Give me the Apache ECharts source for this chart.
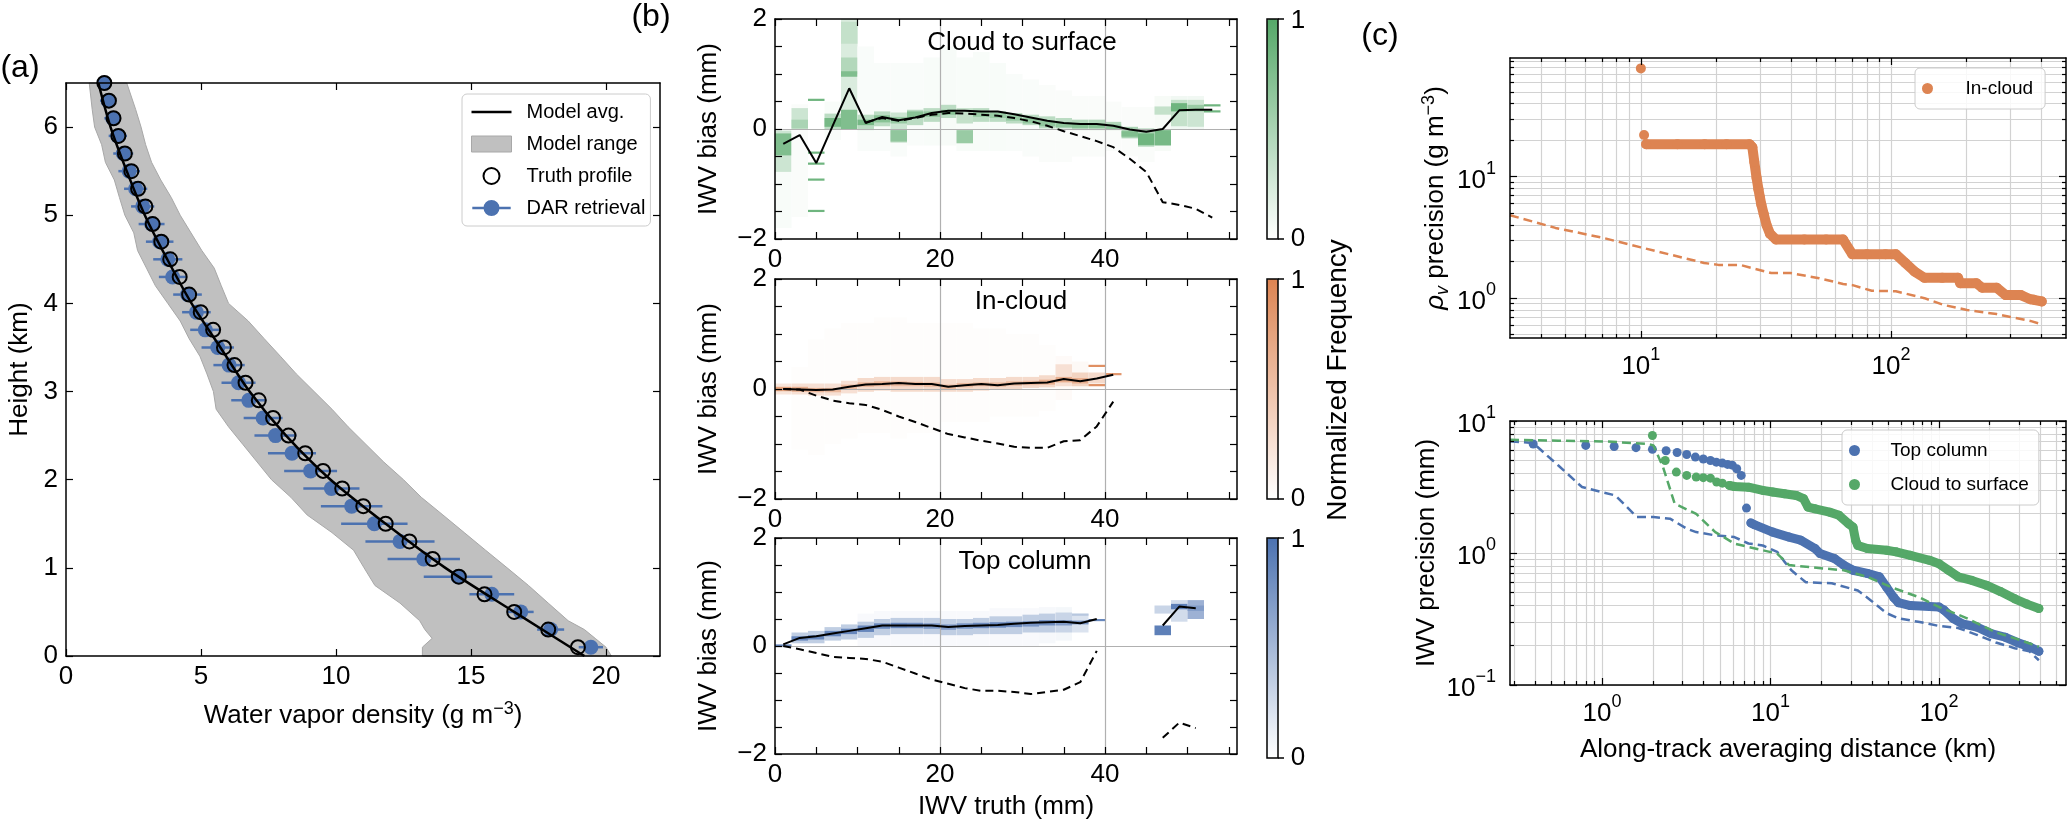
<!DOCTYPE html>
<html>
<head>
<meta charset="utf-8">
<script src="https://cdn.jsdelivr.net/npm/echarts@6/dist/echarts.min.js"></script>
<style>
html, body { margin: 0; padding: 0; background: #fff; }
#chart { width: 2067px; height: 824px; }
</style>
</head>
<body>
<div id="chart"></div>
<script>
const FONT = '"Liberation Sans", Arial, sans-serif'
const BLUE = '#4C72B0', ORANGE = '#DD8452', GREEN = '#55A868'

// ---- (a) water vapour profile ----
const truthH = [0.1, 0.3, 0.5, 0.7, 0.9, 1.1, 1.3, 1.5, 1.7, 1.9, 2.1, 2.3, 2.5, 2.7, 2.9, 3.1, 3.3,
  3.5, 3.7, 3.9, 4.1, 4.3, 4.5, 4.7, 4.9, 5.1, 5.3, 5.5, 5.7, 5.9, 6.1, 6.3, 6.5]
const truthRho = [18.96, 17.86, 16.6, 15.5, 14.55, 13.58, 12.72, 11.84, 11.01, 10.23, 9.52, 8.86, 8.24,
  7.67, 7.14, 6.65, 6.24, 5.85, 5.45, 4.99, 4.56, 4.21, 3.86, 3.53, 3.21, 2.94, 2.67, 2.42, 2.18, 1.94, 1.76, 1.59, 1.42]
const darRho = [19.44, 17.95, 16.84, 15.77, 14.52, 13.25, 12.37, 11.42, 10.58, 9.83, 9.06, 8.37, 7.76,
  7.3, 6.77, 6.39, 6.04, 5.62, 5.16, 4.83, 4.5, 3.95, 3.77, 3.47, 3.17, 2.84, 2.58, 2.34, 2.12, 1.92, 1.73, 1.56, 1.42]
const darErr = [0.45, 0.5, 0.48, 0.83, 1.27, 1.34, 1.28, 1.23, 1.14, 1.04, 0.98, 0.89, 0.78, 0.72, 0.65,
  0.63, 0.58, 0.6, 0.56, 0.53, 0.53, 0.51, 0.54, 0.51, 0.48, 0.43, 0.43, 0.4, 0.37, 0.34, 0.31, 0.3, 0.28]
const avgH = [0, 0.5, 1, 1.5, 2, 2.5, 3, 3.5, 4, 4.5, 5, 5.5, 6, 6.5]
const avgRho = [19.2, 16.6, 14.05, 11.84, 9.8, 8.15, 6.8, 5.72, 4.65, 3.75, 2.92, 2.25, 1.65, 1.2]
const rangeH = [0, 0.1, 0.2, 0.3, 0.4, 0.6, 0.8, 1.0, 1.2, 1.4, 1.6, 1.8, 2.0, 2.2, 2.4, 2.6, 2.8, 3.0,
  3.2, 3.4, 3.6, 3.8, 4.0, 4.2, 4.4, 4.6, 4.8, 5.0, 5.2, 5.4, 5.6, 5.8, 6.0, 6.2, 6.5]
const rangeMin = [13.2, 13.2, 13.56, 13.29, 13.1, 12.37, 11.44, 11.04, 10.65, 9.85, 8.93, 8.33, 7.61, 7.08,
  6.55, 6.02, 5.56, 5.46, 5.22, 4.96, 4.56, 4.23, 3.77, 3.31, 2.98, 2.65, 2.51, 2.18, 1.98, 1.79, 1.46, 1.32, 1.06, 0.97, 0.86]
const rangeMax = [20.2, 20.0, 19.6, 19.2, 18.6, 17.86, 17.13, 16.34, 15.54, 14.75, 13.96, 13.16, 12.5, 11.77,
  11.11, 10.45, 9.85, 9.19, 8.53, 7.94, 7.34, 6.75, 6.02, 5.75, 5.49, 5.03, 4.63, 4.23, 3.9, 3.51, 3.17, 2.95, 2.78, 2.58, 2.25]

// ---- (b) IWV bias vs truth ----
const surfX = [1, 3, 5, 7, 9, 11, 13, 15, 17, 19, 21, 23, 25, 27, 29, 31, 33, 35, 37, 39, 41, 43, 45, 47, 49, 51, 53]
const surfBias = [-0.27, -0.11, -0.62, 0.06, 0.74, 0.11, 0.22, 0.16, 0.21, 0.29, 0.33, 0.33, 0.32, 0.32,
  0.27, 0.21, 0.15, 0.11, 0.09, 0.09, 0.06, -0.01, -0.05, 0.0, 0.34, 0.35, 0.35]
const surfDashX = [11, 13, 15, 17, 19, 21, 23, 25, 27, 29, 31, 33, 35, 37, 39, 41, 43, 45, 47, 49, 51, 53]
const surfDash = [0.12, 0.2, 0.15, 0.2, 0.26, 0.29, 0.28, 0.26, 0.24, 0.2, 0.14, 0.06, -0.04, -0.13, -0.22,
  -0.33, -0.54, -0.78, -1.33, -1.38, -1.45, -1.61]
const inX = [1, 3, 5, 7, 9, 11, 13, 15, 17, 19, 21, 23, 25, 27, 29, 31, 33, 35, 37, 39, 41]
const inBias = [0.0, -0.01, -0.02, -0.01, 0.04, 0.08, 0.09, 0.11, 0.09, 0.09, 0.04, 0.07, 0.09, 0.07, 0.1,
  0.11, 0.12, 0.18, 0.14, 0.19, 0.26]
const inDash = [0.0, -0.01, -0.12, -0.21, -0.26, -0.29, -0.38, -0.5, -0.6, -0.71, -0.82, -0.88, -0.94,
  -0.99, -1.05, -1.07, -1.07, -0.95, -0.93, -0.68, -0.23]
const topX = [1, 3, 5, 7, 9, 11, 13, 15, 17, 19, 21, 23, 25, 27, 29, 31, 33, 35, 37, 39, 41, 43, 45, 47, 49, 51]
const topBias = [0.03, 0.15, 0.18, 0.23, 0.28, 0.33, 0.38, 0.38, 0.38, 0.38, 0.35, 0.37, 0.38, 0.39, 0.41,
  0.43, 0.44, 0.45, 0.42, 0.5, null, null, null, 0.38, 0.73, 0.7]
const topDash = [0.0, -0.06, -0.13, -0.2, -0.22, -0.24, -0.29, -0.4, -0.51, -0.62, -0.7, -0.78, -0.83,
  -0.83, -0.85, -0.89, -0.85, -0.81, -0.67, -0.09, null, null, null, -1.7, -1.42, -1.52]

// 2-D histogram bands per 2 mm column: [column start, bias low, bias high, normalized frequency]
const surfCells = [
  [0, -1.8, 0.0, 0.04], [0, -0.78, -0.03, 0.3], [0, -0.48, -0.08, 0.75],
  [2, -1.6, 0.45, 0.03], [2, 0.0, 0.38, 0.3], [2, 0.01, 0.17, 0.5],
  [4, 0.51, 0.55, 0.85], [4, -0.45, -0.41, 0.85], [4, -0.65, -0.61, 0.85], [4, -0.94, -0.9, 0.85], [4, -1.51, -1.47, 0.85],
  [6, -0.2, 0.5, 0.04], [6, 0.0, 0.28, 0.4], [6, 0.04, 0.2, 0.8],
  [8, 0.0, 2.0, 0.22], [8, 1.55, 1.95, 0.35], [8, 1.0, 1.3, 0.45], [8, 0.95, 1.05, 0.75], [8, 0.0, 0.35, 0.75],
  [10, -0.4, 1.5, 0.035], [10, -0.02, 0.26, 0.4], [10, 0.07, 0.17, 0.8],
  [12, -0.4, 1.2, 0.035], [12, 0.05, 0.32, 0.4], [12, 0.12, 0.25, 0.7],
  [14, -0.5, 1.2, 0.035], [14, -0.25, 0.3, 0.3], [14, -0.23, -0.02, 0.65], [14, 0.1, 0.22, 0.6],
  [16, -0.3, 1.2, 0.035], [16, 0.07, 0.35, 0.4], [16, 0.2, 0.32, 0.7],
  [18, -0.3, 1.3, 0.04], [18, 0.13, 0.38, 0.4], [18, 0.22, 0.32, 0.65],
  [20, -0.3, 1.5, 0.045], [20, 0.2, 0.44, 0.4], [20, 0.26, 0.35, 0.7],
  [22, -0.4, 1.3, 0.04], [22, 0.1, 0.38, 0.35], [22, -0.26, -0.02, 0.6],
  [24, -0.4, 1.4, 0.04], [24, 0.13, 0.38, 0.4], [24, 0.22, 0.32, 0.6],
  [26, -0.4, 1.2, 0.04], [26, 0.13, 0.32, 0.4], [26, 0.2, 0.3, 0.6],
  [28, -0.4, 1.0, 0.035], [28, 0.1, 0.29, 0.4], [28, 0.15, 0.25, 0.6],
  [30, -0.5, 0.9, 0.035], [30, 0.07, 0.26, 0.4], [30, 0.1, 0.2, 0.65],
  [32, -0.6, 0.8, 0.03], [32, 0.01, 0.23, 0.4], [32, 0.05, 0.15, 0.65],
  [34, -0.6, 0.7, 0.03], [34, 0.01, 0.2, 0.4], [34, 0.03, 0.12, 0.65],
  [36, -0.5, 0.6, 0.03], [36, -0.02, 0.17, 0.45], [36, 0.02, 0.1, 0.7],
  [38, -0.5, 0.6, 0.03], [38, -0.02, 0.17, 0.45], [38, 0.02, 0.1, 0.7],
  [40, -0.4, 0.5, 0.03], [40, -0.02, 0.13, 0.45], [40, 0.0, 0.08, 0.65],
  [42, -0.5, 0.4, 0.03], [42, -0.17, 0.04, 0.5], [42, -0.14, -0.04, 0.75],
  [44, -0.6, 0.4, 0.03], [44, -0.32, 0.01, 0.5], [44, -0.29, -0.08, 0.85],
  [46, -0.4, 0.6, 0.05], [46, 0.26, 0.41, 0.35], [46, -0.3, -0.02, 0.8],
  [48, 0.0, 0.6, 0.08], [48, 0.05, 0.53, 0.35], [48, 0.32, 0.47, 0.85],
  [50, 0.0, 0.6, 0.08], [50, 0.04, 0.53, 0.3], [50, 0.32, 0.44, 0.6],
  [52, 0.41, 0.45, 0.85], [52, 0.3, 0.34, 0.85]
]
const inCells = [
  [0, -0.1, 0.1, 0.2], [0, -0.04, 0.04, 0.75],
  [2, -1.1, 0.4, 0.02], [2, -0.1, 0.1, 0.25], [2, -0.05, 0.04, 0.65],
  [4, -1.2, 0.9, 0.02], [4, -0.12, 0.1, 0.25], [4, -0.06, 0.02, 0.6],
  [6, -1.0, 1.1, 0.02], [6, -0.12, 0.1, 0.25], [6, -0.06, 0.02, 0.55],
  [8, -0.9, 1.2, 0.02], [8, -0.08, 0.15, 0.25], [8, -0.01, 0.08, 0.55],
  [10, -0.8, 1.2, 0.02], [10, -0.05, 0.2, 0.3], [10, 0.04, 0.12, 0.6],
  [12, -0.8, 1.3, 0.02], [12, -0.03, 0.22, 0.3], [12, 0.05, 0.14, 0.6],
  [14, -0.9, 1.3, 0.02], [14, -0.05, 0.22, 0.3], [14, 0.05, 0.14, 0.55],
  [16, -0.8, 1.2, 0.02], [16, -0.05, 0.22, 0.3], [16, 0.05, 0.13, 0.55],
  [18, -0.8, 1.2, 0.02], [18, -0.05, 0.22, 0.3], [18, 0.04, 0.12, 0.55],
  [20, -0.6, 1.2, 0.02], [20, -0.05, 0.18, 0.3], [20, 0.0, 0.08, 0.55],
  [22, -0.6, 1.2, 0.02], [22, -0.05, 0.18, 0.3], [22, 0.03, 0.11, 0.55],
  [24, -0.6, 1.1, 0.02], [24, -0.03, 0.2, 0.3], [24, 0.05, 0.12, 0.55],
  [26, -0.5, 1.1, 0.02], [26, 0.0, 0.2, 0.3], [26, 0.04, 0.12, 0.55],
  [28, -0.5, 1.0, 0.02], [28, 0.0, 0.22, 0.3], [28, 0.06, 0.14, 0.55],
  [30, -0.5, 1.0, 0.02], [30, 0.02, 0.22, 0.3], [30, 0.07, 0.15, 0.55],
  [32, -0.4, 0.8, 0.02], [32, 0.03, 0.25, 0.3], [32, 0.08, 0.17, 0.65],
  [34, -0.2, 0.6, 0.04], [34, 0.05, 0.45, 0.25], [34, 0.12, 0.22, 0.65],
  [36, 0.0, 0.5, 0.05], [36, 0.05, 0.3, 0.35], [36, 0.1, 0.2, 0.65],
  [38, 0.1, 0.3, 0.3], [38, 0.4, 0.44, 0.9], [38, 0.05, 0.09, 0.9],
  [40, 0.25, 0.29, 0.85]
]
const topCells = [
  [0, -0.02, 0.03, 0.85],
  [2, 0.05, 0.25, 0.35], [2, 0.1, 0.18, 0.85],
  [4, 0.05, 0.28, 0.35], [4, 0.12, 0.2, 0.85],
  [6, 0.1, 0.35, 0.35], [6, 0.18, 0.28, 0.85],
  [8, 0.12, 0.4, 0.35], [8, 0.22, 0.32, 0.85],
  [10, 0.0, 0.6, 0.04], [10, 0.15, 0.45, 0.35], [10, 0.26, 0.38, 0.85],
  [12, 0.0, 0.65, 0.04], [12, 0.2, 0.5, 0.35], [12, 0.32, 0.42, 0.85],
  [14, 0.0, 0.65, 0.04], [14, 0.22, 0.52, 0.35], [14, 0.33, 0.43, 0.85],
  [16, 0.0, 0.65, 0.04], [16, 0.22, 0.52, 0.35], [16, 0.33, 0.43, 0.8],
  [18, 0.0, 0.65, 0.04], [18, 0.22, 0.52, 0.35], [18, 0.32, 0.42, 0.75],
  [20, 0.0, 0.65, 0.04], [20, 0.2, 0.5, 0.35], [20, 0.3, 0.4, 0.7],
  [22, 0.0, 0.65, 0.04], [22, 0.2, 0.5, 0.35], [22, 0.32, 0.42, 0.75],
  [24, 0.0, 0.65, 0.04], [24, 0.22, 0.52, 0.35], [24, 0.33, 0.43, 0.8],
  [26, 0.0, 0.7, 0.04], [26, 0.22, 0.55, 0.35], [26, 0.34, 0.44, 0.85],
  [28, 0.0, 0.7, 0.04], [28, 0.22, 0.55, 0.35], [28, 0.35, 0.45, 0.8],
  [30, 0.0, 0.7, 0.04], [30, 0.25, 0.58, 0.35], [30, 0.36, 0.46, 0.75],
  [32, 0.05, 0.72, 0.05], [32, 0.25, 0.6, 0.35], [32, 0.38, 0.48, 0.8],
  [34, 0.1, 0.72, 0.06], [34, 0.25, 0.62, 0.3], [34, 0.38, 0.48, 0.7],
  [36, 0.25, 0.6, 0.2], [36, 0.56, 0.6, 0.4], [36, 0.4, 0.47, 0.75],
  [38, 0.46, 0.5, 0.85],
  [46, 0.6, 0.75, 0.3], [46, 0.2, 0.38, 0.9],
  [48, 0.45, 0.85, 0.25], [48, 0.68, 0.78, 0.9],
  [50, 0.5, 0.85, 0.55], [50, 0.65, 0.75, 0.7]
]

// ---- (c) precision vs averaging distance ----
const icX = [10, 10.3, 10.5, 14, 18, 22, 27.2, 27.9, 28.4, 29, 29.5, 29.9, 30.3, 31, 31.8, 32.8, 34.7, 45, 55,
  64.3, 70, 80, 95, 104.5, 114, 124, 136, 160, 185, 189, 219, 231, 264, 287, 330, 360, 372, 400]
const icY = [78, 22.1, 18.5, 18.5, 18.5, 18.5, 18.5, 17.5, 13.3, 9.8, 7.9, 6.8, 5.9, 4.9, 4.0, 3.4, 3.04, 3.04,
  3.04, 3.04, 2.3, 2.3, 2.3, 2.3, 1.95, 1.66, 1.47, 1.47, 1.47, 1.33, 1.33, 1.22, 1.22, 1.06, 1.06, 0.98, 0.97, 0.94]
const icDashX = [3, 4.56, 7.1, 10, 17.9, 20.4, 24.9, 33.2, 39.6, 51.6, 64.3, 70.2, 83.7, 104.5, 136, 162, 201, 264, 300, 360, 400]
const icDashY = [4.82, 3.79, 3.13, 2.62, 1.95, 1.88, 1.88, 1.61, 1.61, 1.46, 1.31, 1.28, 1.15, 1.14, 1.0, 0.88,
  0.8, 0.74, 0.7, 0.65, 0.61]
const tcX = [0.39, 0.8, 1.18, 1.59, 1.99, 2.4, 2.79, 3.18, 3.58, 3.99, 4.4, 4.77, 5.18, 5.56, 5.93, 6.3, 6.7,
  7.2, 7.65, 8.0, 10.3, 12.9, 15.1, 18.4, 19.7, 23.9, 27.2, 30.9, 37.6, 44.3, 48.9, 53.9, 57.5, 67.6, 100,
  107, 121, 138, 168, 204, 248, 292, 344, 392]
const tcY = [6.7, 6.53, 6.41, 6.28, 6.1, 5.95, 5.77, 5.58, 5.33, 5.15, 5.02, 4.88, 4.8, 4.69, 4.63, 4.35, 3.87,
  2.19, 1.69, 1.64, 1.44, 1.32, 1.25, 1.08, 0.99, 0.91, 0.81, 0.74, 0.7, 0.66, 0.55, 0.46, 0.42, 0.4, 0.39,
  0.37, 0.32, 0.29, 0.275, 0.245, 0.23, 0.21, 0.195, 0.18]
const csX = [1.99, 2.37, 2.76, 3.18, 3.62, 3.99, 4.4, 4.79, 5.18, 5.7, 6.1, 7.4, 9.0, 10.3, 12.1, 14.2, 15.7,
  16.7, 18.4, 22.4, 25.5, 29.0, 30.9, 32.0, 33, 37.6, 48.9, 55.6, 67.6, 88, 100, 114, 130, 157, 191, 232, 282, 333, 392]
const csY = [7.77, 5.02, 4.1, 3.87, 3.76, 3.72, 3.69, 3.45, 3.38, 3.25, 3.19, 3.15, 2.98, 2.9, 2.81, 2.73, 2.58,
  2.23, 2.16, 2.04, 1.93, 1.67, 1.57, 1.25, 1.14, 1.08, 1.05, 1.02, 0.96, 0.88, 0.83, 0.74, 0.66, 0.62, 0.57,
  0.51, 0.45, 0.41, 0.38]
const tcDashX = [0.284, 0.39, 0.55, 0.76, 0.99, 1.2, 1.61, 2.02, 2.53, 3.18, 3.62, 4.7, 6.1, 7.4, 9.0, 10.95,
  12.1, 13.3, 16.2, 23.1, 33, 40.1, 48.9, 57.5, 76.9, 100, 130, 168, 218, 282, 344, 392]
const tcDashY = [7.03, 6.8, 4.6, 3.16, 2.9, 2.73, 1.87, 1.87, 1.82, 1.53, 1.44, 1.36, 1.32, 1.18, 1.14, 1.02,
  0.86, 0.74, 0.6, 0.59, 0.52, 0.43, 0.35, 0.32, 0.3, 0.28, 0.27, 0.24, 0.21, 0.19, 0.18, 0.154]
const csDashX = [0.284, 0.55, 1.05, 1.89, 2.02, 2.3, 2.7, 3.62, 4.7, 6.1, 7.4, 10.95, 12.9, 17.3, 27.2, 37.6,
  52.2, 76.9, 100, 147, 218, 300, 392]
const csDashY = [7.2, 7.1, 7.0, 6.7, 6.53, 4.48, 2.36, 1.98, 1.44, 1.18, 1.11, 0.99, 0.81, 0.78, 0.74, 0.66,
  0.55, 0.46, 0.39, 0.32, 0.25, 0.22, 0.195]

// tick positions
const aXTicks = [0, 5, 10, 15, 20]
const aYTicks = [0, 1, 2, 3, 4, 5, 6]
const bXTicks = [0, 5, 10, 15, 20, 25, 30, 35, 40, 45, 50, 55]
const bXLabels = [0, 20, 40]
const bYTicks = [-2, -1.5, -1, -0.5, 0, 0.5, 1, 1.5, 2]
const bYLabels = [-2, 0, 2]
const c1XMajor = [10, 100]
const c1XMinor = [4, 5, 6, 7, 8, 9, 20, 30, 40, 50, 60, 70, 80, 90, 200, 300, 400]
const c1YMajor = [1, 10]
const c1YMinor = [0.5, 0.6, 0.7, 0.8, 0.9, 2, 3, 4, 5, 6, 7, 8, 9, 20, 30, 40, 50, 60, 70, 80, 90]
const c2XMajor = [1, 10, 100]
const c2XMinor = [0.3, 0.4, 0.5, 0.6, 0.7, 0.8, 0.9, 2, 3, 4, 5, 6, 7, 8, 9, 20, 30, 40, 50, 60, 70, 80, 90, 200, 300, 400, 500]
const c2YMajor = [0.1, 1, 10]
const c2YMinor = [0.2, 0.3, 0.4, 0.5, 0.6, 0.7, 0.8, 0.9, 2, 3, 4, 5, 6, 7, 8, 9]

const BIN = 2
const SUP = {
  b: { fontFamily: FONT, fontSize: 26, color: '#000', lineHeight: 34, verticalAlign: 'bottom' },
  e: { fontFamily: FONT, fontSize: 18, color: '#000', lineHeight: 18, verticalAlign: 'top' }
}
const NAME_RICH = {
  sup: { fontFamily: FONT, fontSize: 18, color: '#000', lineHeight: 14, verticalAlign: 'top' },
  it: { fontFamily: FONT, fontSize: 26, color: '#000', fontStyle: 'italic' },
  sub: { fontFamily: FONT, fontSize: 18, color: '#000', fontStyle: 'italic', lineHeight: 14, verticalAlign: 'bottom' }
}
const minus = v => (v < 0 ? '\u2212' + (-v) : String(v))
const pow10 = v => {
  const e = Math.round(Math.log10(v))
  return '{b|10}{e|' + minus(e) + '}'
}

const xAxes = []
const yAxes = []
function frame(list, dim, grid, o) {
  const main = dim === 'x' ? 'bottom' : 'left'
  const opp = dim === 'x' ? 'top' : 'right'
  const type = o.type || 'value'
  const base = (pos, ticks, len, line) => ({
    gridIndex: grid, type, min: o.min, max: o.max, position: pos, z: 5,
    axisLine: { show: line, onZero: false, lineStyle: { color: '#000', width: 1.5 } },
    axisTick: { show: true, inside: true, length: len, customValues: ticks, lineStyle: { color: '#000', width: 1.2 } },
    axisLabel: { show: false },
    splitLine: { show: false }
  })
  const m = base(main, o.major, 7, true)
  m.axisLabel = {
    show: true, customValues: o.labels, fontFamily: FONT, fontSize: 26, color: '#000',
    margin: o.margin || 8, formatter: o.fmt, rich: SUP
  }
  if (o.name) {
    m.name = o.name
    m.nameLocation = 'middle'
    m.nameGap = o.nameGap
    m.nameRotate = dim === 'y' ? 90 : 0
    m.nameTextStyle = { fontFamily: FONT, fontSize: 26, color: '#000', lineHeight: 32, rich: NAME_RICH }
  }
  list.push(m)
  const idx = list.length - 1
  list.push(base(opp, o.major, 7, true))
  if (o.minor) {
    list.push(base(main, o.minor, 4, false))
    list.push(base(opp, o.minor, 4, false))
  }
  if (o.grid) {
    list.push({
      gridIndex: grid, type, min: o.min, max: o.max, position: main, z: o.gridZ || 0,
      axisLine: { show: false, onZero: false },
      axisTick: { show: false, customValues: o.grid },
      axisLabel: { show: false },
      splitLine: { show: true, lineStyle: { color: o.gridColor || '#d2d2d2', width: 1.2 } }
    })
  }
  return idx
}

const grids = [
  { left: 66, top: 83, width: 594, height: 573 },
  { left: 775, top: 19, width: 462, height: 220 },
  { left: 775, top: 279, width: 462, height: 220 },
  { left: 775, top: 538, width: 462, height: 220 },
  { left: 1510, top: 58, width: 556, height: 280 },
  { left: 1510, top: 421, width: 556, height: 264 }
]

// axes
const ax = frame(xAxes, 'x', 0, {
  min: 0, max: 22, major: aXTicks, labels: aXTicks,
  name: 'Water vapor density (g m{sup|\u22123})', nameGap: 44
})
const ay = frame(yAxes, 'y', 0, { min: 0, max: 6.5, major: aYTicks, labels: aYTicks, name: 'Height (km)', nameGap: 30 })
const bx = [], by = []
for (let k = 0; k < 3; k++) {
  bx.push(frame(xAxes, 'x', k + 1, {
    min: 0, max: 56, major: bXTicks, labels: bXLabels, grid: [20, 40], gridZ: 3, gridColor: '#b0b0b0',
    name: k === 2 ? 'IWV truth (mm)' : '', nameGap: 37
  }))
  by.push(frame(yAxes, 'y', k + 1, {
    min: -2, max: 2, major: bYTicks, labels: bYLabels, fmt: minus, grid: [0], gridZ: 3, gridColor: '#b0b0b0',
    name: 'IWV bias (mm)', nameGap: 50
  }))
}
const c1x = frame(xAxes, 'x', 4, {
  type: 'log', min: 3, max: 500, major: c1XMajor, minor: c1XMinor, labels: c1XMajor, fmt: pow10,
  grid: c1XMajor.concat(c1XMinor)
})
const c1y = frame(yAxes, 'y', 4, {
  type: 'log', min: 0.47, max: 95, major: c1YMajor, minor: c1YMinor, labels: c1YMajor, fmt: pow10, margin: 14,
  grid: c1YMajor.concat(c1YMinor),
  name: '{it|\u03c1}{sub|v} precision (g m{sup|\u22123})', nameGap: 58
})
const c2x = frame(xAxes, 'x', 5, {
  type: 'log', min: 0.284, max: 568, major: c2XMajor, minor: c2XMinor, labels: c2XMajor, fmt: pow10,
  grid: c2XMajor.concat(c2XMinor),
  name: 'Along-track averaging distance (km)', nameGap: 49
})
const c2y = frame(yAxes, 'y', 5, {
  type: 'log', min: 0.1, max: 10, major: c2YMajor, minor: c2YMinor, labels: c2YMajor, fmt: pow10, margin: 14,
  grid: c2YMajor.concat(c2YMinor),
  name: 'IWV precision (mm)', nameGap: 65
})

const pairs = (xs, ys) => xs.map((x, i) => [x, ys[i]])
const series = []

// (a)
series.push({
  name: 'Model range', type: 'custom', xAxisIndex: ax, yAxisIndex: ay, z: 1,
  itemStyle: { color: '#c0c0c0', borderColor: '#a8a8a8', borderWidth: 1 },
  data: [[rangeMin[0], rangeH[0]]],
  renderItem: (params, api) => {
    const pts = rangeH.map((h, i) => api.coord([rangeMin[i], h]))
    for (let i = rangeH.length - 1; i >= 0; i--) pts.push(api.coord([rangeMax[i], rangeH[i]]))
    return { type: 'polygon', shape: { points: pts }, style: { fill: '#c0c0c0', stroke: '#a8a8a8', lineWidth: 1 } }
  }
})
series.push({
  type: 'custom', xAxisIndex: ax, yAxisIndex: ay, z: 2,
  encode: { x: [0, 1], y: 2 },
  data: darRho.map((r, i) => [r - darErr[i], r + darErr[i], truthH[i]]),
  renderItem: (params, api) => {
    const p0 = api.coord([api.value(0), api.value(2)])
    const p1 = api.coord([api.value(1), api.value(2)])
    return { type: 'line', shape: { x1: p0[0], y1: p0[1], x2: p1[0], y2: p1[1] }, style: { stroke: BLUE, lineWidth: 2.5 } }
  }
})
series.push({
  name: 'DAR retrieval', type: 'scatter', xAxisIndex: ax, yAxisIndex: ay, z: 3,
  symbolSize: 15, itemStyle: { color: BLUE, opacity: 1 }, data: pairs(darRho, truthH)
})
series.push({
  name: 'Model avg.', type: 'line', xAxisIndex: ax, yAxisIndex: ay, z: 4, smooth: 0.3,
  symbol: 'none', lineStyle: { color: '#000', width: 2.5 }, itemStyle: { color: '#000' },
  data: pairs(avgRho, avgH)
})
series.push({
  name: 'Truth profile', type: 'scatter', xAxisIndex: ax, yAxisIndex: ay, z: 5,
  symbol: 'circle', symbolSize: 14,
  itemStyle: { color: 'rgba(255,255,255,0)', borderColor: '#000', borderWidth: 2, opacity: 1 },
  data: pairs(truthRho, truthH)
})

// (b)
const heatIdx = []
const cellSets = [surfCells, inCells, topCells]
const lineSets = [[surfX, surfBias, surfDashX, surfDash], [inX, inBias, inX, inDash], [topX, topBias, topX, topDash]]
for (let k = 0; k < 3; k++) {
  heatIdx.push(series.length)
  series.push({
    type: 'custom', xAxisIndex: bx[k], yAxisIndex: by[k], z: 2,
    encode: { x: [0, 1], y: [2, 3] },
    data: cellSets[k].map(c => [c[0], c[0] + BIN, c[1], c[2], c[3]]),
    renderItem: (params, api) => {
      const lo = Math.min(api.value(2), api.value(3)), hi = Math.max(api.value(2), api.value(3))
      const p0 = api.coord([api.value(0), hi])
      const p1 = api.coord([api.value(1), lo])
      return {
        type: 'rect',
        shape: { x: p0[0], y: p0[1], width: p1[0] - p0[0], height: Math.max(p1[1] - p0[1], 2) },
        style: { fill: api.visual('color') }
      }
    }
  })
  const [sx, sy, dx, dy] = lineSets[k]
  series.push({
    type: 'line', xAxisIndex: bx[k], yAxisIndex: by[k], z: 4, symbol: 'none', connectNulls: false,
    lineStyle: { color: '#000', width: 2 }, data: pairs(sx, sy)
  })
  series.push({
    type: 'line', xAxisIndex: bx[k], yAxisIndex: by[k], z: 4, symbol: 'none', connectNulls: false,
    lineStyle: { color: '#000', width: 2, type: [8, 5] }, data: pairs(dx, dy)
  })
}

// (c)
const dots = (name, xi, yi, xs, ys, color, size) => ({
  name, type: 'scatter', xAxisIndex: xi, yAxisIndex: yi, z: 2, symbolSize: size,
  itemStyle: { color, opacity: 1 }, data: pairs(xs, ys)
})
const band = (xi, yi, xs, ys, color, w) => ({
  type: 'line', xAxisIndex: xi, yAxisIndex: yi, z: 2, symbol: 'none',
  lineStyle: { color, width: w, cap: 'round', join: 'round' }, data: pairs(xs, ys)
})
const dash = (xi, yi, xs, ys, color) => ({
  type: 'line', xAxisIndex: xi, yAxisIndex: yi, z: 3, symbol: 'none',
  lineStyle: { color, width: 2.5, type: [9, 5] }, data: pairs(xs, ys)
})
series.push(dots('In-cloud', c1x, c1y, icX, icY, ORANGE, 10))
series.push(band(c1x, c1y, icX.slice(2), icY.slice(2), ORANGE, 10))
series.push(dash(c1x, c1y, icDashX, icDashY, ORANGE))
series.push(dots('Top column', c2x, c2y, tcX, tcY, BLUE, 9))
series.push(band(c2x, c2y, tcX.slice(18), tcY.slice(18), BLUE, 9))
series.push(dots('Cloud to surface', c2x, c2y, csX, csY, GREEN, 9))
series.push(band(c2x, c2y, csX.slice(9), csY.slice(9), GREEN, 9))
series.push(dash(c2x, c2y, tcDashX, tcDashY, BLUE))
series.push(dash(c2x, c2y, csDashX, csDashY, GREEN))

const cmap = [GREEN, ORANGE, BLUE]
const visualMap = heatIdx.map((si, k) => ({
  type: 'continuous', seriesIndex: si, dimension: 4, min: 0, max: 1, calculable: false,
  inRange: { color: ['#ffffff', cmap[k]] },
  left: 1267, top: grids[k + 1].top, itemWidth: 11, itemHeight: 220, padding: 0,
  hoverLink: false, text: null
}))

const legendText = { fontFamily: FONT, fontSize: 20, color: '#000', padding: [0, 0, 0, 10] }
const legend = [
  {
    left: 462, top: 94, orient: 'vertical', itemWidth: 40, itemHeight: 16, itemGap: 12,
    padding: [8, 5, 8, 9], backgroundColor: 'rgba(255,255,255,0.85)', borderColor: '#cccccc',
    borderWidth: 1, borderRadius: 5, textStyle: legendText, selectedMode: false,
    data: [
      { name: 'Model avg.', icon: 'path://M0,0H40V2.5H0Z', itemStyle: { color: '#000' } },
      { name: 'Model range', icon: 'rect', itemStyle: { color: '#c0c0c0', borderColor: '#a8a8a8', borderWidth: 1 } },
      { name: 'Truth profile', icon: 'circle', itemStyle: { color: 'rgba(255,255,255,0)', borderColor: '#000', borderWidth: 2 } },
      { name: 'DAR retrieval', icon: 'path://M0,5.2H24V6.8H0Z M17,6A5,5 0 1 1 7,6A5,5 0 1 1 17,6Z' }
    ]
  },
  {
    left: 1915, top: 68, orient: 'vertical', itemWidth: 40, itemHeight: 11, padding: [11, 12, 11, 7],
    backgroundColor: 'rgba(255,255,255,0.85)', borderColor: '#cccccc', borderWidth: 1, borderRadius: 5,
    selectedMode: false, textStyle: { fontFamily: FONT, fontSize: 19, color: '#000', padding: [0, 0, 0, 13] },
    data: [{ name: 'In-cloud', icon: 'circle' }]
  },
  {
    left: 1842, top: 430, orient: 'vertical', itemWidth: 40, itemHeight: 11, itemGap: 15, padding: [11, 10, 11, 7],
    backgroundColor: 'rgba(255,255,255,0.85)', borderColor: '#cccccc', borderWidth: 1, borderRadius: 5,
    selectedMode: false, textStyle: { fontFamily: FONT, fontSize: 19, color: '#000', padding: [0, 0, 0, 11] },
    data: [{ name: 'Top column', icon: 'circle' }, { name: 'Cloud to surface', icon: 'circle' }]
  }
]

const txt = (x, y, text, size, extra) => Object.assign({
  type: 'text', x, y, z: 100,
  style: { text, fontFamily: FONT, fontSize: size, fill: '#000', align: 'center', verticalAlign: 'middle' }
}, extra || {})
const graphics = [
  txt(20, 68, '(a)', 32),
  txt(651, 17, '(b)', 32),
  txt(1380, 36, '(c)', 32),
  txt(1022, 43, 'Cloud to surface', 26),
  txt(1021, 302, 'In-cloud', 26),
  txt(1025, 562, 'Top column', 26),
  txt(1338, 380, 'Normalized Frequency', 28, { rotation: Math.PI / 2 })
]
for (let k = 0; k < 3; k++) {
  const t = grids[k + 1].top
  graphics.push({ type: 'rect', z: 100, shape: { x: 1267, y: t, width: 11, height: 220 }, style: { fill: 'none', stroke: '#000', lineWidth: 1.5 } })
  graphics.push({ type: 'line', z: 100, shape: { x1: 1278, y1: t, x2: 1284, y2: t }, style: { stroke: '#000', lineWidth: 1.5 } })
  graphics.push({ type: 'line', z: 100, shape: { x1: 1278, y1: t + 220, x2: 1284, y2: t + 220 }, style: { stroke: '#000', lineWidth: 1.5 } })
  graphics.push(txt(1298, t + 2, '1', 26))
  graphics.push(txt(1298, t + 220, '0', 26))
}

const chart = echarts.init(document.getElementById('chart'))
chart.setOption({
  animation: false,
  backgroundColor: '#ffffff',
  textStyle: { fontFamily: FONT },
  grid: grids,
  xAxis: xAxes,
  yAxis: yAxes,
  visualMap,
  legend,
  graphic: { elements: graphics },
  series
})
</script>
</body>
</html>
